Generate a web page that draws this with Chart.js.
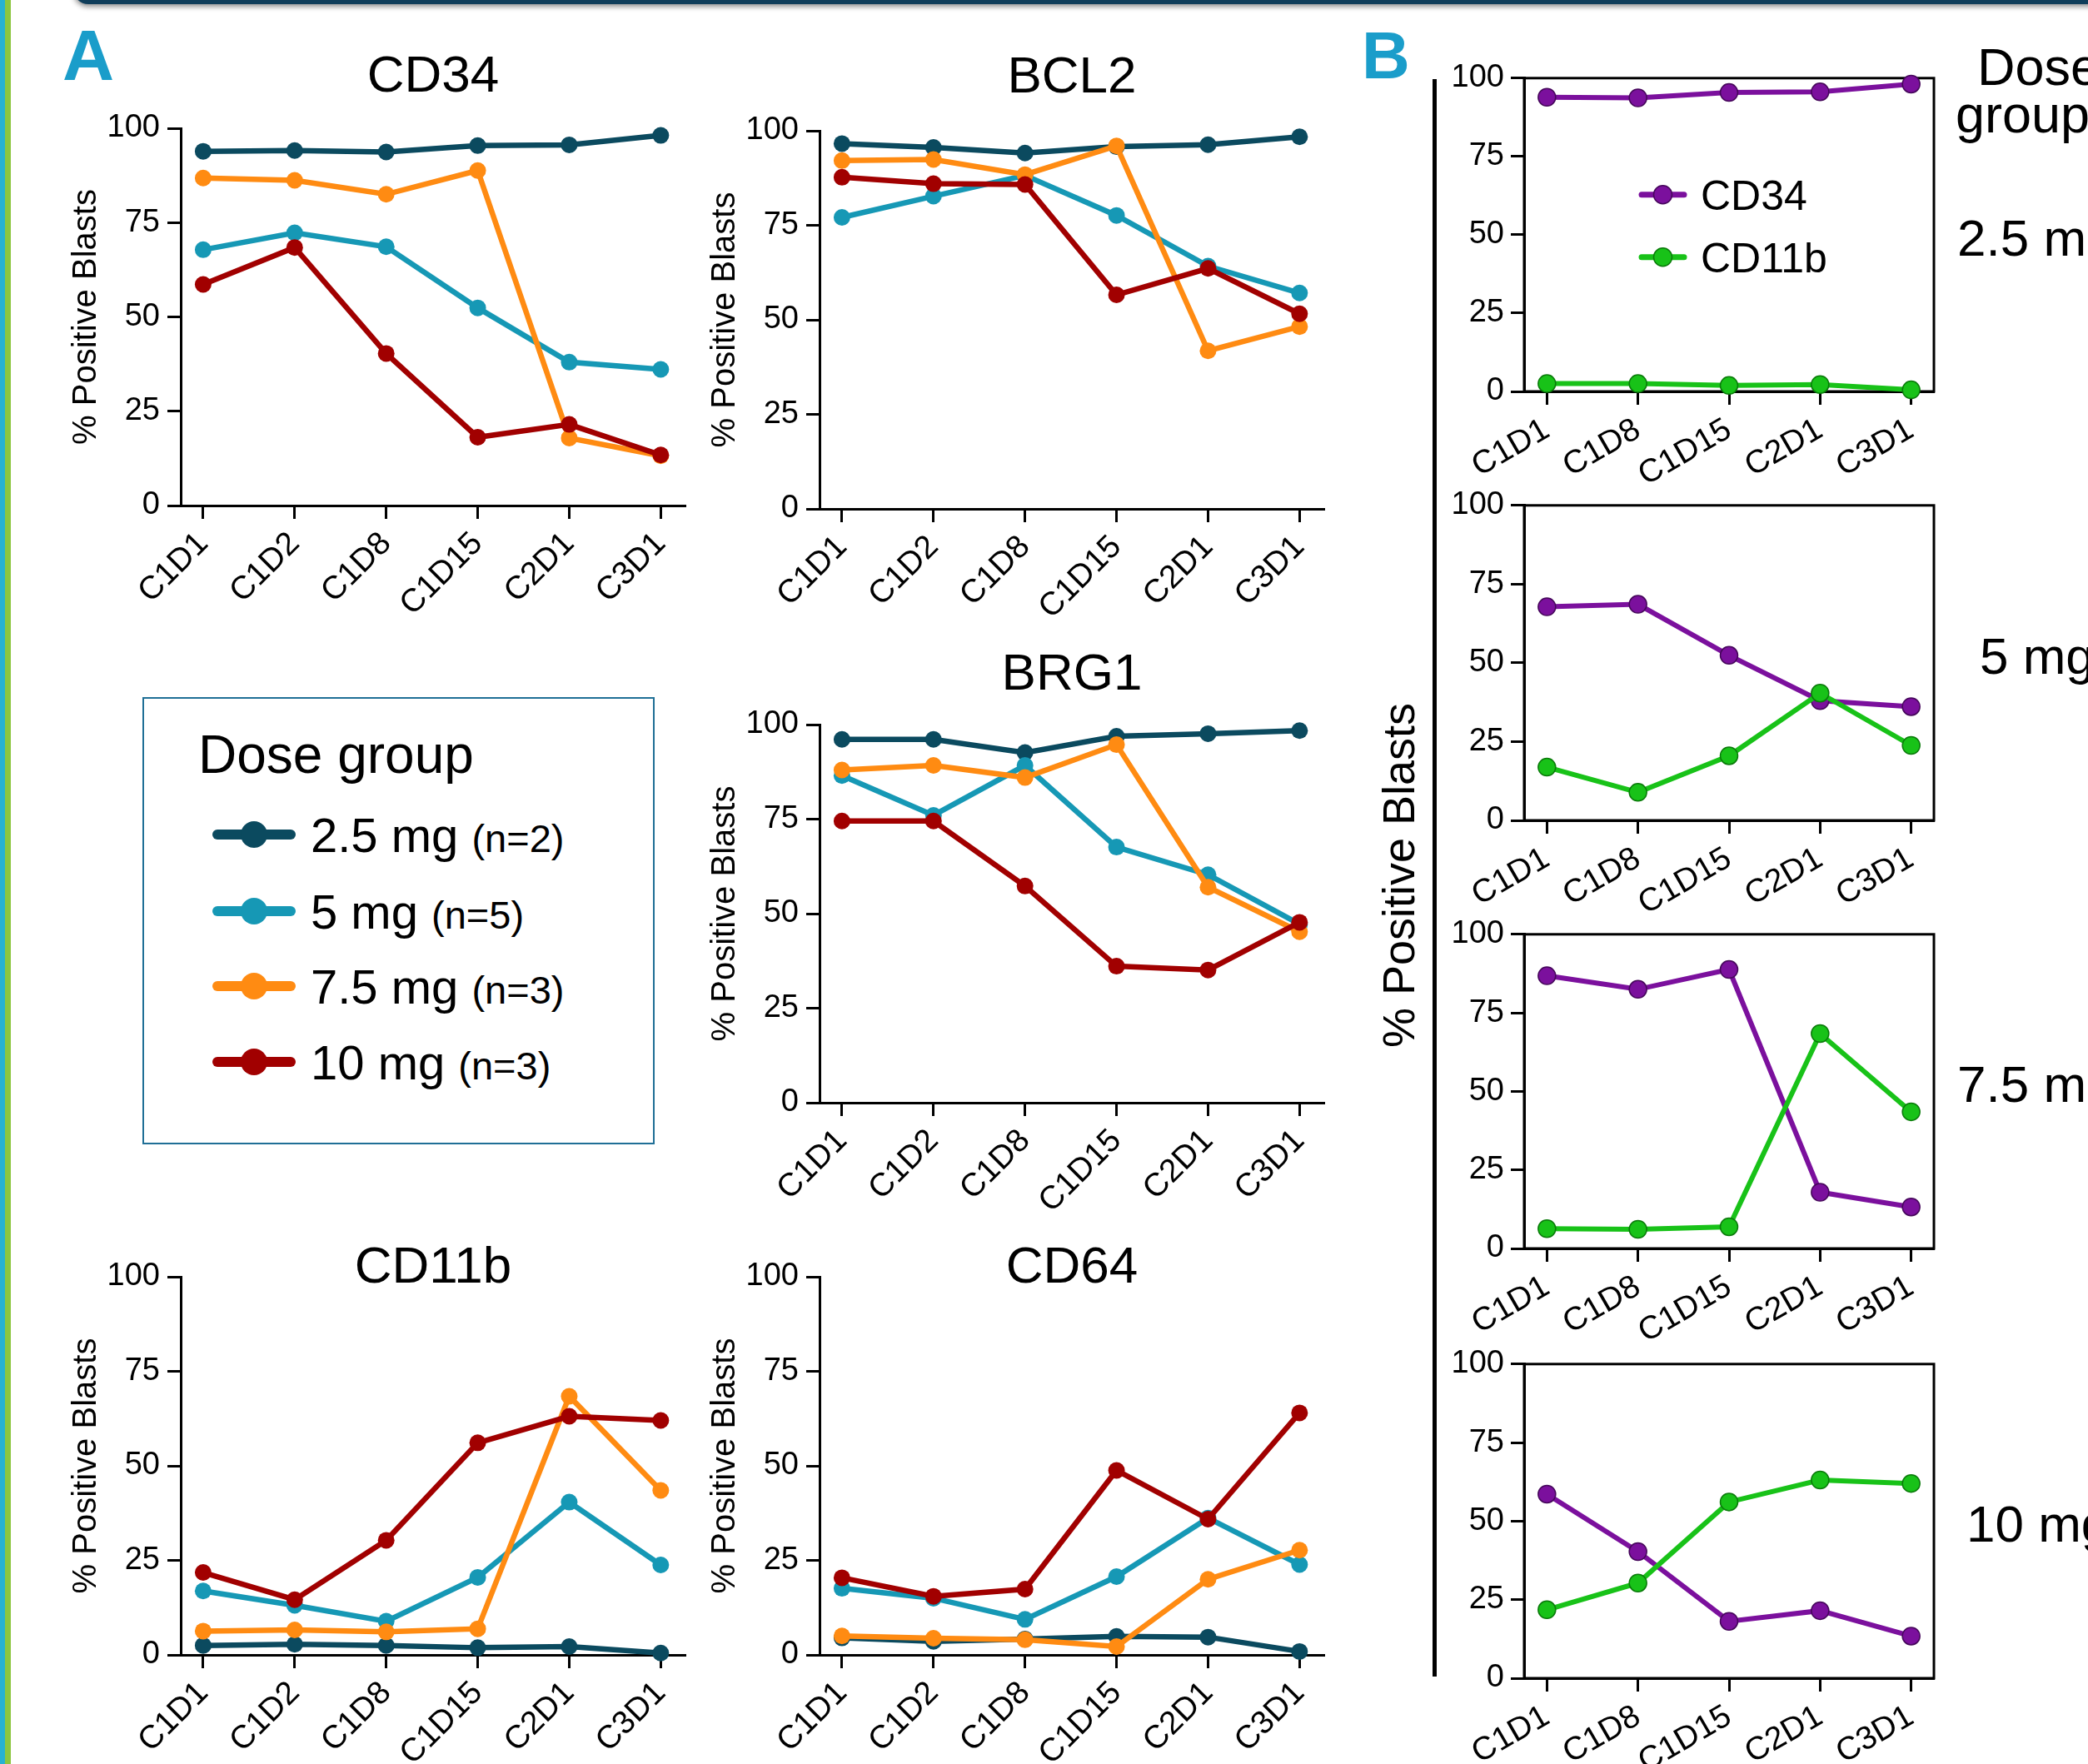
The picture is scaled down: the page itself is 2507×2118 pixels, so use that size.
<!DOCTYPE html>
<html>
<head>
<meta charset="utf-8">
<title>Blast marker kinetics by dose group</title>
<script src="https://cdn.jsdelivr.net/npm/chart.js@4.4.1/dist/chart.umd.min.js"></script>
<style>
  html, body { margin: 0; padding: 0; }
  body {
    width: 2507px; height: 2118px; position: relative; overflow: hidden;
    background: #fff; color: #000;
    font-family: "Liberation Sans", Arial, Helvetica, sans-serif;
  }
  canvas { position: absolute; }
  .txt { position: absolute; white-space: nowrap; line-height: 1; }
  .letter { font-weight: bold; color: #1a9dca; }
  #topbar { position: absolute; left: 88px; top: -22px; width: 2440px; height: 27px; background: #0f3d5a;
            border-radius: 0 0 0 18px; box-shadow: 0 3px 6px rgba(0,0,0,.45); }
  #stripA { position: absolute; left: 0; top: 0; width: 6px; height: 2118px; background: #27b2d1; }
  #stripB { position: absolute; left: 6px; top: 0; width: 7px; height: 2118px; background: #8cc63f; }
  #legendA { position: absolute; left: 171px; top: 837px; width: 615px; height: 537px;
             box-sizing: border-box; border: 2px solid #1f6f96; }
  .key { position: absolute; width: 100px; height: 0; }
  .key .bar { position: absolute; left: 0; top: -6px; width: 100px; height: 12px; border-radius: 6px; }
  .key .dot { position: absolute; left: 34px; top: -16px; width: 32px; height: 32px; border-radius: 50%; }
  #vline { position: absolute; left: 1720px; top: 95px; width: 5px; height: 1918px; background: #000; }
  #ytitleB { position: absolute; left: 1679px; top: 1051px; font-size: 54px; line-height: 1; white-space: nowrap;
             transform: translate(-50%, -50%) rotate(-90deg); }
</style>
</head>
<body>
<div id="stripA"></div>
<div id="stripB"></div>
<div id="topbar"></div>

<div class="txt letter" style="left:75px; top:23px; font-size:86px;">A</div>
<div class="txt letter" style="left:1635px; top:27px; font-size:80px;">B</div>

<div id="legendA"></div>
<div class="txt" style="left:238px; top:874px; font-size:64px;">Dose group</div>

<div id="vline"></div>
<div id="ytitleB">% Positive Blasts</div>

<script>
// ---------- data ----------
const timepoints = ['C1D1', 'C1D2', 'C1D8', 'C1D15', 'C2D1', 'C3D1'];
const timepointsB = ['C1D1', 'C1D8', 'C1D15', 'C2D1', 'C3D1'];
const doseGroups = ['2.5 mg', '5 mg', '7.5 mg', '10 mg'];
const doseN = ['(n=2)', '(n=5)', '(n=3)', '(n=3)'];
const markersB = ['CD34', 'CD11b'];
const yTicks = [0, 25, 50, 75, 100];

// % positive blasts, one row per dose group (2.5, 5, 7.5, 10 mg)
const cd34 = [
  [93.9, 94.1, 93.7, 95.4, 95.6, 98.1],
  [67.8, 72.3, 68.6, 52.4, 38.0, 36.1],
  [86.8, 86.2, 82.5, 88.8, 17.9, 13.2],
  [58.6, 68.4, 40.3, 18.1, 21.5, 13.4]
];
const bcl2 = [
  [96.6, 95.6, 94.1, 95.8, 96.3, 98.4],
  [77.1, 82.7, 88.2, 77.6, 64.2, 57.1],
  [92.1, 92.4, 88.4, 96.0, 41.8, 48.2],
  [87.7, 86.0, 85.8, 56.6, 63.6, 51.6]
];
const brg1 = [
  [96.1, 96.1, 92.6, 96.9, 97.6, 98.4],
  [86.5, 76.0, 89.2, 67.6, 60.3, 47.2],
  [88.0, 89.2, 86.0, 94.7, 57.0, 45.2],
  [74.5, 74.5, 57.3, 36.1, 35.1, 47.7]
];
const cd11b = [
  [2.5, 2.8, 2.5, 1.9, 2.2, 0.5],
  [16.9, 13.1, 8.9, 20.5, 40.4, 23.8],
  [6.3, 6.6, 6.1, 6.9, 68.4, 43.5],
  [21.8, 14.6, 30.3, 56.1, 63.1, 62.0]
];
const cd64 = [
  [4.5, 3.6, 4.2, 4.9, 4.7, 0.9],
  [17.6, 15.0, 9.4, 20.7, 36.2, 23.9],
  [5.0, 4.4, 4.0, 2.2, 20.0, 27.7],
  [20.4, 15.5, 17.4, 48.8, 35.9, 64.0]
];

// ---------- styles ----------
const FONT = '"Liberation Sans", Arial, Helvetica, sans-serif';
const doseColors = ['#0b4a5f', '#1698b5', '#ff8b12', '#a10000'];
const markerColors = ['#7b109d', '#18c218'];
const markerEdges = ['#45075a', '#0a7a0a'];

Chart.defaults.font.family = FONT;
Chart.defaults.color = '#000';

// panel A placement (chart area in page px)
const panelsA = [
  { title: 'CD34',  data: cd34,  left: 217, right: 823,  top: 154,  bottom: 607,  titleDy: -44 },
  { title: 'BCL2',  data: bcl2,  left: 984, right: 1590, top: 157,  bottom: 611,  titleDy: -46 },
  { title: 'BRG1',  data: brg1,  left: 984, right: 1590, top: 870,  bottom: 1324, titleDy: -42 },
  { title: 'CD11b', data: cd11b, left: 217, right: 823,  top: 1533, bottom: 1987, titleDy: 7 },
  { title: 'CD64',  data: cd64,  left: 984, right: 1590, top: 1533, bottom: 1987, titleDy: 7 }
];
// panel B placement, one box per dose group
const panelsB = [
  { top: 93,   bottom: 470, legend: true },
  { top: 606,  bottom: 985 },
  { top: 1121, bottom: 1499 },
  { top: 1637, bottom: 2015 }
];
const legendRowY = [1002, 1094, 1184, 1275];
const sideLabelPos = [
  { left: 2350, top: 255 },
  { left: 2377, top: 757 },
  { left: 2350, top: 1271 },
  { left: 2361, top: 1799 }
];

// title drawn over the chart area
const panelTitle = {
  id: 'panelTitle',
  afterDraw(chart, args, opts) {
    if (!opts.text) return;
    const { ctx, chartArea } = chart;
    ctx.save();
    ctx.font = '62px ' + FONT;
    ctx.fillStyle = '#000';
    ctx.textAlign = 'center';
    ctx.textBaseline = 'alphabetic';
    ctx.fillText(opts.text, (chartArea.left + chartArea.right) / 2, chartArea.top + opts.dy);
    ctx.restore();
  }
};

// closed frame round the B panels
const boxFrame = {
  id: 'boxFrame',
  beforeDatasetsDraw(chart) {
    const { ctx, chartArea: a } = chart;
    ctx.save();
    ctx.strokeStyle = '#000';
    ctx.lineWidth = 3;
    ctx.strokeRect(a.left, a.top, a.right - a.left, a.bottom - a.top);
    ctx.restore();
  }
};

// small legend inside the first B panel
const innerLegend = {
  id: 'innerLegend',
  afterDatasetsDraw(chart, args, opts) {
    if (!opts.show) return;
    const { ctx, chartArea: a } = chart;
    ctx.save();
    chart.data.datasets.forEach((ds, i) => {
      const y = a.top + opts.rows[i];
      ctx.strokeStyle = ds.borderColor;
      ctx.lineWidth = 7;
      ctx.lineCap = 'round';
      ctx.beginPath();
      ctx.moveTo(a.left + opts.x0, y);
      ctx.lineTo(a.left + opts.x1, y);
      ctx.stroke();
      ctx.beginPath();
      ctx.arc(a.left + (opts.x0 + opts.x1) / 2, y, 11, 0, Math.PI * 2);
      ctx.fillStyle = ds.pointBackgroundColor;
      ctx.fill();
      ctx.lineWidth = 1.5;
      ctx.strokeStyle = ds.pointBorderColor;
      ctx.stroke();
      ctx.fillStyle = '#000';
      ctx.font = '50px ' + FONT;
      ctx.textBaseline = 'alphabetic';
      ctx.fillText(ds.label, a.left + opts.tx, y + 18);
    });
    ctx.restore();
  }
};

function placeCanvas(left, top, width, height) {
  const cv = document.createElement('canvas');
  cv.width = width;
  cv.height = height;
  cv.style.left = left + 'px';
  cv.style.top = top + 'px';
  cv.style.width = width + 'px';
  cv.style.height = height + 'px';
  document.body.appendChild(cv);
  return cv;
}

const tickGrid = { drawOnChartArea: false, drawTicks: true, tickLength: 16, tickWidth: 3, tickColor: '#000' };
const axisBorder = { display: true, color: '#000', width: 3 };

function drawPanelA(p) {
  const yW = 137, padTop = 110, padRight = 50, xH = 150;
  const w = yW + (p.right - p.left) + padRight;
  const h = padTop + (p.bottom - p.top) + xH;
  const cv = placeCanvas(p.left - yW, p.top - padTop, w, h);

  new Chart(cv, {
    type: 'line',
    data: {
      datasets: doseGroups.map((g, i) => ({
        label: g,
        data: p.data[i].map((v, k) => ({ x: k, y: v })),
        borderColor: doseColors[i],
        backgroundColor: doseColors[i],
        pointBackgroundColor: doseColors[i],
        pointBorderColor: doseColors[i],
        pointBorderWidth: 0,
        pointRadius: 10,
        borderWidth: 6.5,
        tension: 0,
        clip: false,
        order: doseGroups.length - i
      }))
    },
    options: {
      responsive: false,
      animation: false,
      devicePixelRatio: 1,
      events: [],
      layout: { padding: { left: 0, top: padTop, right: padRight, bottom: 0 } },
      plugins: {
        legend: { display: false },
        tooltip: { enabled: false },
        panelTitle: { text: p.title, dy: p.titleDy }
      },
      scales: {
        x: {
          type: 'linear',
          min: -0.245,
          max: 5.27,
          afterBuildTicks: s => { s.ticks = timepoints.map((t, k) => ({ value: k })); },
          afterFit: s => { s.height = xH; },
          grid: tickGrid,
          border: axisBorder,
          ticks: {
            color: '#000', font: { size: 39 }, padding: 7, autoSkip: false,
            minRotation: 45, maxRotation: 45,
            callback: v => timepoints[v]
          }
        },
        y: {
          min: 0,
          max: 100,
          afterBuildTicks: s => { s.ticks = yTicks.map(v => ({ value: v })); },
          afterFit: s => { s.width = yW; },
          grid: tickGrid,
          border: axisBorder,
          ticks: { color: '#000', font: { size: 38 }, padding: 9 },
          title: { display: true, text: '% Positive Blasts', color: '#000', font: { size: 40 }, padding: 0 }
        }
      }
    },
    plugins: [panelTitle]
  });
}

function drawPanelB(p, i) {
  const left = 1830, right = 2322;
  const yW = 100, padTop = 30, padRight = 40, xH = 110;
  const w = yW + (right - left) + padRight;
  const h = padTop + (p.bottom - p.top) + xH;
  const cv = placeCanvas(left - yW, p.top - padTop, w, h);
  const series = [cd34, cd11b];

  new Chart(cv, {
    type: 'line',
    data: {
      datasets: markersB.map((m, j) => ({
        label: m,
        data: timepointsB.map((t, k) => ({ x: k, y: series[j][i][timepoints.indexOf(t)] })),
        borderColor: markerColors[j],
        backgroundColor: markerColors[j],
        pointBackgroundColor: markerColors[j],
        pointBorderColor: markerEdges[j],
        pointBorderWidth: 1.5,
        pointRadius: 10.5,
        borderWidth: 6,
        tension: 0,
        clip: false,
        order: markersB.length - j
      }))
    },
    options: {
      responsive: false,
      animation: false,
      devicePixelRatio: 1,
      events: [],
      layout: { padding: { left: 0, top: padTop, right: padRight, bottom: 0 } },
      plugins: {
        legend: { display: false },
        tooltip: { enabled: false },
        innerLegend: { show: !!p.legend, rows: [140, 215], x0: 141, x1: 192, tx: 212 }
      },
      scales: {
        x: {
          type: 'linear',
          min: -0.25,
          max: 4.25,
          afterBuildTicks: s => { s.ticks = timepointsB.map((t, k) => ({ value: k })); },
          afterFit: s => { s.height = xH; },
          grid: tickGrid,
          border: axisBorder,
          ticks: {
            color: '#000', font: { size: 39 }, padding: 7, autoSkip: false,
            minRotation: 30, maxRotation: 30,
            callback: v => timepointsB[v]
          }
        },
        y: {
          min: 0,
          max: 100,
          afterBuildTicks: s => { s.ticks = yTicks.map(v => ({ value: v })); },
          afterFit: s => { s.width = yW; },
          grid: tickGrid,
          border: axisBorder,
          ticks: { color: '#000', font: { size: 38 }, padding: 8 }
        }
      }
    },
    plugins: [boxFrame, innerLegend]
  });
}

// legend of panel A
doseGroups.forEach((g, i) => {
  const cy = legendRowY[i];
  const key = document.createElement('div');
  key.className = 'key';
  key.style.left = '255px';
  key.style.top = cy + 'px';
  key.innerHTML = '<div class="bar" style="background:' + doseColors[i] + '"></div>' +
                  '<div class="dot" style="background:' + doseColors[i] + '"></div>';
  document.body.appendChild(key);

  const label = document.createElement('div');
  label.className = 'txt';
  label.style.left = '373px';
  label.style.top = (cy - 28) + 'px';
  label.style.fontSize = '58px';
  label.innerHTML = g + ' <span style="font-size:47px">' + doseN[i] + '</span>';
  document.body.appendChild(label);
});

// dose labels on the right of panel B
const head1 = document.createElement('div');
head1.className = 'txt';
head1.style.cssText = 'left:2374px; top:49px; font-size:63px;';
head1.textContent = 'Dose';
document.body.appendChild(head1);
const head2 = document.createElement('div');
head2.className = 'txt';
head2.style.cssText = 'left:2348px; top:106px; font-size:63px;';
head2.textContent = 'group';
document.body.appendChild(head2);

doseGroups.forEach((g, i) => {
  const d = document.createElement('div');
  d.className = 'txt';
  d.style.left = sideLabelPos[i].left + 'px';
  d.style.top = sideLabelPos[i].top + 'px';
  d.style.fontSize = '62px';
  d.textContent = g;
  document.body.appendChild(d);
});

panelsA.forEach(drawPanelA);
panelsB.forEach(drawPanelB);
</script>
</body>
</html>
